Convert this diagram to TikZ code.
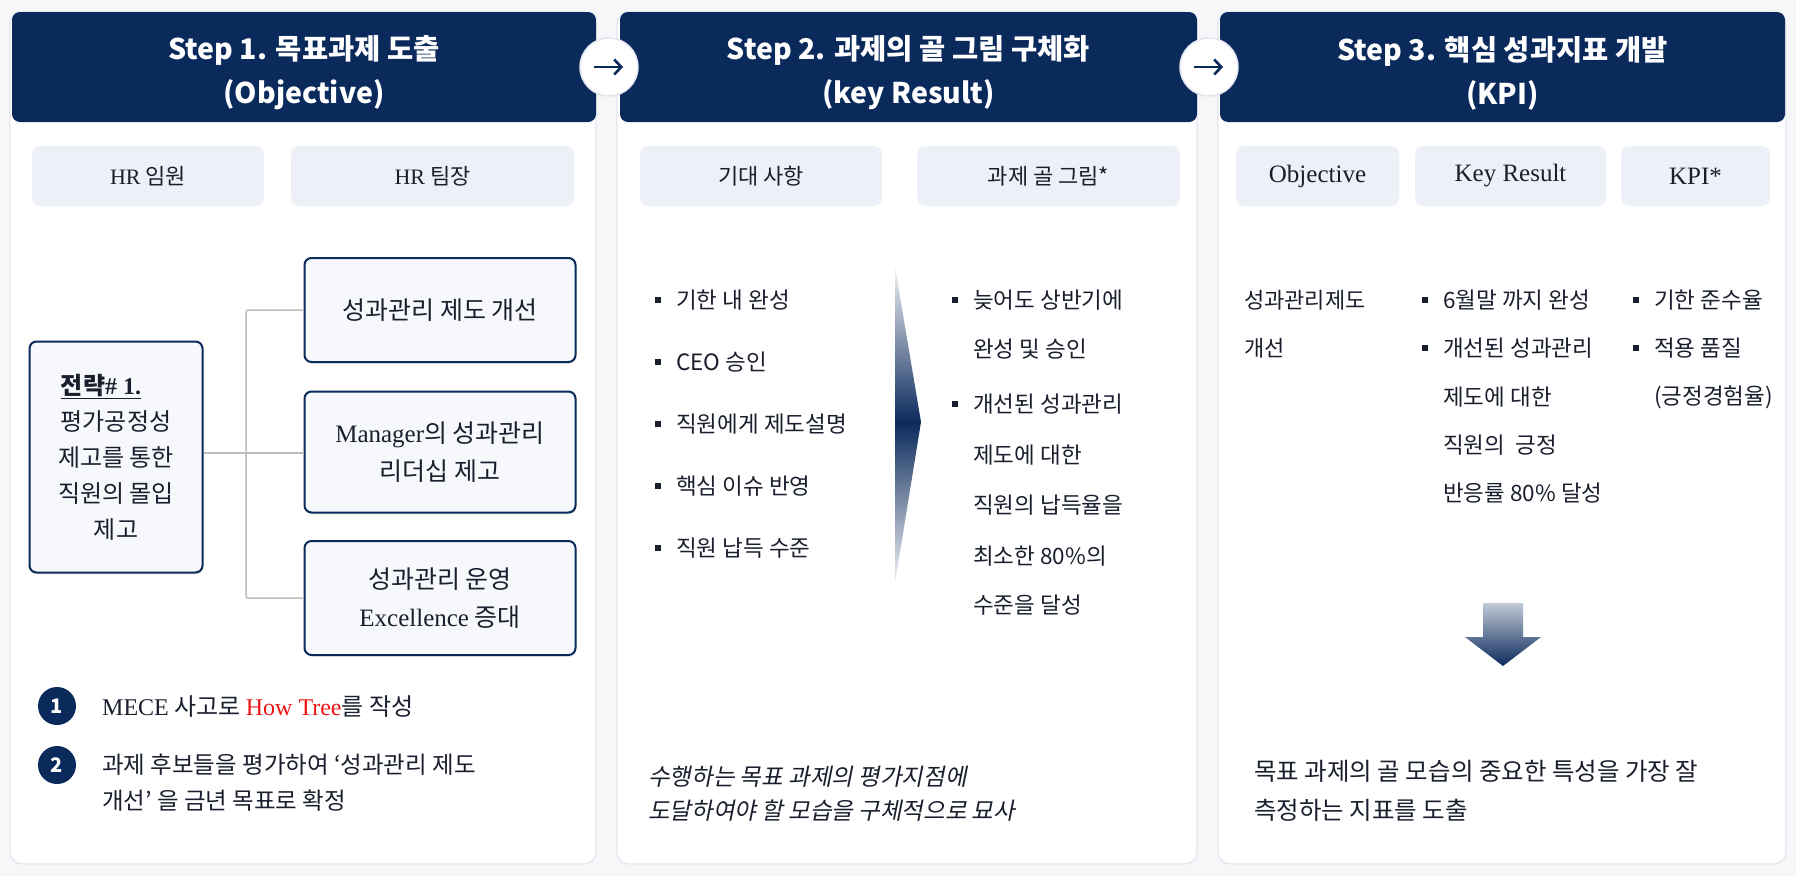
\documentclass[tikz,border=0pt]{standalone}
\usepackage{fontspec}
\setmainfont{Noto Sans CJK KR}
\newfontfamily\lat{Liberation Serif}
\newfontfamily\krit[FakeSlant=0.2]{Noto Sans CJK KR}
\usetikzlibrary{arrows.meta,positioning,shadows}

\definecolor{navy}{HTML}{0B2A5C}
\definecolor{subfill}{HTML}{EDF0F6}
\definecolor{cardline}{HTML}{E2E6EE}
\definecolor{bgc}{HTML}{F6F7F9}
\definecolor{boxfill}{HTML}{F6F8FC}
\definecolor{treeline}{HTML}{BDBDBD}
\definecolor{ink}{HTML}{1A1F2E}
\definecolor{howred}{HTML}{F01414}

\newcommand\bul{\makebox[21pt][l]{\raisebox{5pt}{\rule{6pt}{6pt}}}}
\newcommand\nob{\hspace*{21pt}}
\newcommand\latb{\lat\fontsize{25}{26}\selectfont}

\begin{document}
\begin{tikzpicture}[x=1pt,y=-1pt,every node/.style={text=ink},
  hdr/.style={fill=navy,rounded corners=8pt,minimum height=110},
  ttl/.style={text=white,align=center,font=\bfseries\fontsize{28.5}{44}\selectfont},
  subh/.style={fill=subfill,rounded corners=8pt,minimum height=60,font=\fontsize{22}{26}\selectfont},
  leaf/.style={draw=navy,line width=2pt,fill=boxfill,rounded corners=7pt,minimum width=271,
    align=center,font=\fontsize{25}{38}\selectfont,
    drop shadow={opacity=0.12,shadow xshift=1pt,shadow yshift=-2pt}},
  body/.style={anchor=west,inner sep=0pt,font=\fontsize{22.5}{26}\selectfont},
  numc/.style={circle,fill=navy,text=white,minimum size=38,inner sep=0pt,font=\bfseries\fontsize{20}{24}\selectfont},
  stepc/.style={circle,fill=white,draw=cardline,line width=1.5pt,minimum size=58},
  card/.style={fill=white,draw=cardline,line width=1.2pt,rounded corners=12pt},
  link/.style={draw=treeline,line width=1.5pt,rounded corners=2pt}]

  \fill[bgc] (0,0) rectangle (1796,876);
  \useasboundingbox (0,0) rectangle (1796,876);

  % three step cards
  \foreach \xa/\xb in {10/596,617/1197,1218/1786}
    \draw[card] (\xa,12) rectangle (\xb,864);
  \node[hdr,minimum width=584] (h1) at (304,67) {};
  \node[hdr,minimum width=577] (h2) at (908.5,67) {};
  \node[hdr,minimum width=565] (h3) at (1502.5,67) {};
  \node[ttl] (t1) at (304,73) {Step 1. 목표과제 도출\\(Objective)};
  \node[ttl] (t2) at (908.5,73) {Step 2. 과제의 골 그림 구체화\\(key Result)};
  \node[ttl] (t3) at (1502.5,73) {Step 3. 핵심 성과지표 개발\\(KPI)};

  \node[stepc] (c1) at (609,67) {};
  \node[stepc] (c2) at (1209,67) {};
  \foreach \c in {c1,c2}
    \draw[navy,line width=2.6pt,-{Straight Barb[length=7pt,width=15pt]}]
      ([xshift=-15pt]\c.center) -- ([xshift=14pt]\c.center);

  % column heads
  \foreach \n/\cx/\w/\t in {s1/148/232/{{\lat HR} 임원},s2/432.5/283/{{\lat HR} 팀장},
      s3/761/242/{기대 사항},s4/1048.5/263/{과제 골 그림*},s5/1317.5/163/{\latb Objective},
      s6/1510.5/191/{\latb Key Result},s7/1695.5/149/{\latb KPI*}}
    \node[subh,minimum width=\w] (\n) at (\cx,176) {\t};

  % step 1: how tree
  \node[leaf,minimum width=173,minimum height=231,font=\fontsize{24}{36}\selectfont] (goal) at (116,457)
    {\underline{\textbf{전략}{\lat\bfseries\# 1.}}\hspace*{30pt}\\평가공정성\\제고를 통한\\직원의 몰입\\제고};
  \node[leaf,minimum height=104] (r1) at (440,310) {성과관리 제도 개선};
  \node[leaf,minimum height=121] (r2) at (440,452) {{\lat Manager}의 성과관리\\리더십 제고};
  \node[leaf,minimum height=114] (r3) at (440,598) {성과관리 운영\\{\lat Excellence} 증대};
  \coordinate (jn) at (246,453);
  \draw[link] (goal.east |- jn) -- (r2.west |- jn);
  \draw[link] (r1.west) -| (jn) |- (r3.west);

  \node[numc] (n1) at (57,706) {1};
  \node[numc] (n2) at (57,765) {2};
  \node[body,font=\fontsize{24}{35}\selectfont] (m1) at (102,706)
    {{\lat MECE} 사고로 \textcolor{howred}{\lat How Tree}를 작성};
  \node[body,align=left,font=\fontsize{23.5}{36}\selectfont] (m2) at (102,782.5)
    {과제 후보들을 평가하여 ‘성과관리 제도\\개선’ 을 금년 목표로 확정};

  % step 2: expectations and picture of goal
  \foreach \t [count=\i] in {기한 내 완성,CEO 승인,직원에게 제도설명,핵심 이슈 반영,직원 납득 수준}
    \node[body] (ex\i) at (655,{300+62*(\i-1)}) {\bul\t};
  \shade[top color=navy!6,bottom color=navy] (895,267) -- (921,422) -- (895,422) -- cycle;
  \shade[top color=navy,bottom color=navy!6] (895,422) -- (921,422) -- (895,583) -- cycle;
  \foreach \y/\t [count=\i] in {300/{\bul 늦어도 상반기에},349/{\nob 완성 및 승인},
      404/{\bul 개선된 성과관리},455/{\nob 제도에 대한},505/{\nob 직원의 납득율을},
      556/{\nob 최소한 80\%의},605/{\nob 수준을 달성}}
    \node[body] (kg\i) at (952,\y) {\t};
  \node[body,align=left,font=\krit\fontsize{23.5}{34}\selectfont] (d2) at (648,793.5)
    {수행하는 목표 과제의 평가지점에\\도달하여야 할 모습을 구체적으로 묘사};

  % step 3: kpi
  \node[body,align=left,font=\fontsize{22}{48}\selectfont] (obj) at (1244,324) {성과관리제도\\개선};
  \foreach \y/\t [count=\i] in {300/{\bul 6월말 까지 완성},348/{\bul 개선된 성과관리},
      397/{\nob 제도에 대한},445/{\nob 직원의~~긍정},493/{\nob 반응률 80\% 달성}}
    \node[body] (kr\i) at (1422,\y) {\t};
  \foreach \y/\t [count=\i] in {300/{\bul 기한 준수율},348/{\bul 적용 품질},397/{\nob (긍정경험율)}}
    \node[body] (kpi\i) at (1633,\y) {\t};
  \shade[top color=navy!25,bottom color=navy]
    (1483,603) -- (1523,603) -- (1523,637) -- (1541,637) -- (1503,666) -- (1465,637) -- (1483,637) -- cycle;
  \node[body,align=left,font=\fontsize{24.5}{39}\selectfont] (d3) at (1254,791)
    {목표 과제의 골 모습의 중요한 특성을 가장 잘\\측정하는 지표를 도출};
\end{tikzpicture}
\end{document}
